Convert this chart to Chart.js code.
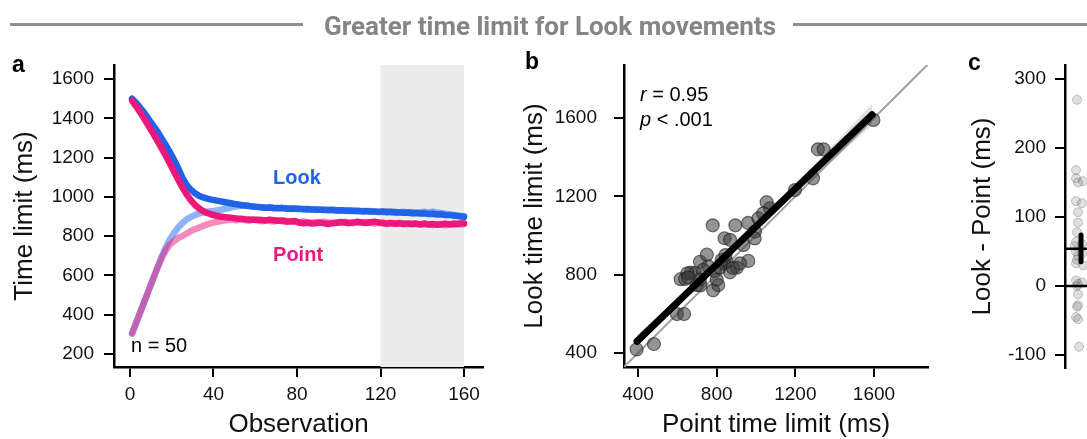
<!DOCTYPE html>
<html>
<head>
<meta charset="utf-8">
<script src="https://cdn.jsdelivr.net/npm/chart.js@4.4.1/dist/chart.umd.min.js"></script>
<style>
  html, body { margin: 0; padding: 0; background: #fff; overflow: hidden; width: 1087px; height: 439px; }
  .panel { position: absolute; }
  .rule { position: absolute; top: 23px; height: 3px; background: #8f8f8f; }
  #title { position: absolute; top: 13px; left: 550px; transform: translateX(-50%); white-space: nowrap;
           font: bold 26px Roboto, sans-serif; line-height: 1; color: #858585; }
  .tag { position: absolute; font: bold 23px "Liberation Sans", Arial, sans-serif; line-height: 1; color: #000; }
</style>
</head>
<body>
<canvas id="chartA" class="panel" style="left:0;top:20px" width="500" height="419"></canvas>
<canvas id="chartB" class="panel" style="left:500px;top:20px" width="440" height="419"></canvas>
<canvas id="chartC" class="panel" style="left:940px;top:20px" width="300" height="419"></canvas>
<div class="rule" style="left:10px;width:293px"></div>
<div id="title">Greater time limit for Look movements</div>
<div class="rule" style="left:793px;width:294px"></div>
<div class="tag" style="left:12px;top:53px">a</div>
<div class="tag" style="left:525px;top:50px">b</div>
<div class="tag" style="left:968px;top:51px">c</div>
<script>
// ---- panel a: time limit per observation (staircases) ----
const observations = [
    1, 3, 5, 7, 9, 11, 13, 15, 17, 19,
    21, 23, 25, 27, 29, 31, 33, 35, 37, 39,
    41, 43, 45, 47, 49, 51, 53, 55, 57, 59,
    61, 63, 65, 67, 69, 71, 73, 75, 77, 79,
    81, 83, 85, 87, 89, 91, 93, 95, 97, 99,
    101, 103, 105, 107, 109, 111, 113, 115, 117, 119,
    121, 123, 125, 127, 129, 131, 133, 135, 137, 139,
    141, 143, 145, 147, 149, 151, 153, 155, 157, 159,
    160];
const lookFromHigh = [
    1500, 1478, 1452, 1425, 1395, 1365, 1335, 1300, 1265, 1230,
    1190, 1148, 1100, 1062, 1038, 1020, 1006, 997, 991, 986,
    982, 978, 974, 970, 966, 962, 959, 956, 953, 951,
    949, 947, 945, 946, 943, 942, 944, 940, 941, 939,
    940, 937, 938, 935, 936, 934, 935, 932, 934, 931,
    932, 929, 931, 928, 929, 926, 928, 925, 926, 923,
    925, 922, 924, 920, 922, 919, 920, 917, 918, 915,
    916, 913, 914, 910, 911, 908, 907, 905, 903, 900,
    898];
const pointFromHigh = [
    1490, 1460, 1428, 1395, 1360, 1325, 1288, 1250, 1212, 1172,
    1130, 1090, 1050, 1015, 985, 960, 942, 928, 918, 910,
    905, 900, 897, 895, 893, 890, 888, 886, 885, 884,
    884, 882, 880, 884, 881, 878, 880, 876, 874, 877,
    869, 866, 868, 864, 866, 869, 865, 862, 866, 868,
    872, 869, 866, 870, 873, 870, 867, 871, 874, 870,
    868, 864, 867, 863, 866, 862, 865, 861, 864, 860,
    863, 859, 862, 858, 861, 863, 860, 864, 862, 866,
    865];
const lookFromLow = [
    305, 360, 415, 470, 525, 580, 635, 690, 740, 782,
    815, 843, 866, 884, 897, 907, 915, 920, 924, 927,
    930, 933, 938, 942, 948, 952, 955, 957, 954, 950,
    948, 946, 944, 947, 942, 944, 940, 943, 938, 941,
    937, 939, 935, 938, 933, 936, 932, 935, 931, 933,
    930, 932, 928, 931, 927, 929, 925, 928, 924, 926,
    923, 927, 922, 925, 921, 924, 920, 923, 919, 922,
    924, 921, 925, 920, 918, 914, 911, 908, 905, 903,
    902];
const pointFromLow = [
    305, 360, 415, 470, 525, 580, 635, 685, 725, 755,
    775, 790, 800, 812, 825, 835, 843, 852, 860, 866,
    872, 876, 879, 882, 884, 880, 886, 882, 878, 884,
    880, 876, 881, 877, 874, 879, 875, 872, 877, 874,
    870, 875, 871, 868, 872, 869, 874, 870, 866, 871,
    868, 873, 869, 866, 870, 867, 872, 868, 864, 869,
    865, 862, 866, 863, 867, 864, 860, 865, 862, 858,
    863, 860, 856, 861, 858, 855, 860, 857, 862, 859,
    861];
const obsTicks = [0, 40, 80, 120, 160];
const limitTicks = [200, 400, 600, 800, 1000, 1200, 1400, 1600];
const testWindow = [120, 160]; // shaded observations

// ---- panel b: per participant limits ----
const pointLimits = [393, 481, 598, 634, 617, 640, 668, 690, 698, 718, 715, 750, 780, 782, 808, 792,
    816, 838, 840, 868, 895, 960, 936, 961, 902, 868, 851, 995, 993, 1012, 1054, 1071,
    1198, 1290, 1315, 1344, 1597, 758, 732, 825, 883, 651, 715, 800, 919, 1037, 655, 845];
const lookLimits = [418, 446, 599, 599, 777, 778, 810, 808, 747, 745, 866, 902, 1052, 720, 747, 818,
    836, 858, 986, 978, 1052, 1064, 951, 870, 836, 812, 866, 1020, 985, 1087, 1170, 1139,
    1232, 1292, 1440, 1440, 1590, 842, 824, 875, 834, 807, 775, 775, 858, 1113, 785, 900];
const fitX = [395, 1590];
const fitY = [460, 1617];
const bandX = [395, 600, 800, 1000, 1200, 1400, 1590];
const bandLow = [428, 640, 842, 1034, 1217, 1395, 1562];
const bandHigh = [492, 676, 862, 1058, 1261, 1471, 1672];
const identity = [330, 1875];
const limitTicksB = [400, 800, 1200, 1600];

// ---- panel c: Look - Point difference ----
const diffs = [270, 168, 156, 152, 150, 123, 120, 107, 92, 78, 64, 61, 58, 50, 47,
    44, 38, 33, 30, 8, 5, 3, 0, -12, -28, -30, -45, -48, -88];
const diffJitter = [0.12, 0.11, 0.11, 0.18, 0.13, 0.11, 0.17, 0.13, 0.13, 0.12, 0.11, 0.17, 0.10, 0.11, 0.17,
    0.13, 0.12, 0.11, 0.18, 0.11, 0.17, 0.13, 0.12, 0.13, 0.13, 0.12, 0.11, 0.13, 0.14];
const diffMean = 54;
const diffCi = [35, 74];
const diffTicks = [-100, 0, 100, 200, 300];

const ink = '#000';
const blue = 'rgb(33, 99, 232)';
const pink = 'rgb(236, 22, 125)';
const fontFamily = '"Liberation Sans", Arial, sans-serif';

function makeAxis(min, max, tickValues, size, horizontal, title, o = {}) {
    return {
        type: 'linear',
        min: min,
        max: max,
        afterBuildTicks: s => { s.ticks = tickValues.map(v => ({value: v})); },
        afterFit: s => { if (horizontal) s.height = size; else s.width = size; },
        grid: {drawOnChartArea: false, drawTicks: true, tickLength: 10, color: ink, lineWidth: 2},
        border: {display: true, color: ink, width: 2.5},
        ticks: {
            color: '#111', autoSkip: false, maxRotation: 0, padding: o.tickPad ?? 8,
            callback: v => String(v),
            font: {family: o.tickFamily || fontFamily, size: 19}
        },
        title: {
            display: true, text: title, color: '#111', padding: o.titlePad,
            font: {family: fontFamily, size: 26, lineHeight: 1}
        }
    };
}

// draws text at data coordinates; parts may be italic
const notesPlugin = {
    id: 'notes',
    afterDatasetsDraw(chart, args, opts) {
        let {ctx, scales} = chart;
        (opts.items || []).forEach(t => {
            let px = scales.x.getPixelForValue(t.x);
            let py = scales.y.getPixelForValue(t.y);
            let parts = t.parts || [{text: t.text}];
            ctx.save();
            ctx.fillStyle = t.color || ink;
            ctx.textBaseline = 'middle';
            let fonts = parts.map(p => `${p.italic ? 'italic ' : ''}${t.weight || 'normal'} ${t.size}px ${fontFamily}`);
            let width = parts.reduce((w, p, i) => { ctx.font = fonts[i]; return w + ctx.measureText(p.text).width; }, 0);
            let x = t.align == 'left' ? px : px - width / 2;
            parts.forEach((p, i) => {
                ctx.font = fonts[i];
                ctx.textAlign = 'left';
                ctx.fillText(p.text, x, py);
                x += ctx.measureText(p.text).width;
            });
            ctx.restore();
        });
    }
};

const shadePlugin = {
    id: 'shade',
    beforeDatasetsDraw(chart, args, opts) {
        if (!opts.range) return;
        let {ctx, chartArea, scales} = chart;
        let x0 = scales.x.getPixelForValue(opts.range[0]);
        let x1 = scales.x.getPixelForValue(opts.range[1]);
        ctx.save();
        ctx.fillStyle = '#ececec';
        ctx.fillRect(x0, chartArea.top, x1 - x0, chartArea.bottom - chartArea.top);
        ctx.restore();
    }
};

function series(xs, ys) {
    return xs.map((x, i) => ({x: x, y: ys[i]}));
}

function trace(data, color, width) {
    return {
        data: data, borderColor: color, borderWidth: width, pointRadius: 0, tension: 0,
        showLine: true, fill: false, borderJoinStyle: 'round', borderCapStyle: 'round'
    };
}

const common = {
    responsive: false,
    animation: false,
    events: [],
    plugins: {legend: {display: false}, tooltip: {enabled: false}}
};

new Chart('chartA', {
    type: 'scatter',
    plugins: [shadePlugin, notesPlugin],
    data: {
        datasets: [
            trace(series(observations, pointFromHigh), pink, 6.5),
            trace(series(observations, lookFromHigh), blue, 6.5),
            trace(series(observations, pointFromLow), 'rgba(236, 22, 125, 0.5)', 6.5),
            trace(series(observations, lookFromLow), 'rgba(33, 99, 232, 0.5)', 6.5)
        ]
    },
    options: Object.assign({}, common, {
        layout: {padding: {left: 0, right: 17, top: 45, bottom: 0}},
        scales: {
            x: makeAxis(-7.66, 169.1, obsTicks, 72, true, 'Observation', {tickPad: 6.5, titlePad: {top: 0, bottom: 1}}),
            y: makeAxis(133.8, 1671.3, limitTicks, 114, false, 'Time limit (ms)', {tickPad: 10, titlePad: {top: 12, bottom: 0}})
        },
        plugins: Object.assign({}, common.plugins, {
            shade: {range: testWindow},
            notes: {items: [
                {text: 'Look', x: 80, y: 1096, size: 20, weight: 'bold', color: blue},
                {text: 'Point', x: 80.5, y: 699, size: 20, weight: 'bold', color: pink},
                {text: 'n = 50', x: 0.5, y: 236, size: 20, align: 'left'}
            ]}
        })
    })
});

new Chart('chartB', {
    type: 'scatter',
    plugins: [notesPlugin],
    data: {
        datasets: [
            trace(series(fitX, fitY), ink, 7),
            {
                data: series(pointLimits, lookLimits), pointRadius: 6.5, pointBorderWidth: 1.2,
                backgroundColor: 'rgba(60, 60, 60, 0.55)', borderColor: 'rgba(30, 30, 30, 0.6)'
            },
            Object.assign(trace(series(bandX, bandHigh), 'rgba(0,0,0,0)', 0), {fill: '+1', backgroundColor: 'rgba(0, 0, 0, 0.12)'}),
            trace(series(bandX, bandLow), 'rgba(0,0,0,0)', 0),
            trace(series(identity, identity), '#a3a3a3', 2)
        ]
    },
    options: Object.assign({}, common, {
        layout: {padding: {left: 0, right: 12, top: 45, bottom: 0}},
        scales: {
            x: makeAxis(328.8, 1874.6, limitTicksB, 72, true, 'Point time limit (ms)', {tickPad: 6.5, titlePad: {top: 0, bottom: 1}}),
            y: makeAxis(328.5, 1870.6, limitTicksB, 124, false, 'Look time limit (ms)',
                {tickPad: 17, tickFamily: '"Liberation Sans Narrow", "Liberation Sans", sans-serif', titlePad: {top: 22, bottom: 0}})
        },
        plugins: Object.assign({}, common.plugins, {
            notes: {items: [
                {parts: [{text: 'r', italic: true}, {text: ' = 0.95'}], x: 410, y: 1715, size: 20, align: 'left'},
                {parts: [{text: 'p', italic: true}, {text: ' < .001'}], x: 410, y: 1585, size: 20, align: 'left'}
            ]}
        })
    })
});

new Chart('chartC', {
    type: 'scatter',
    data: {
        datasets: [
            trace([{x: 0.16, y: diffCi[0]}, {x: 0.16, y: diffCi[1]}], ink, 5),
            trace([{x: 0, y: diffMean}, {x: 1, y: diffMean}], ink, 2.5),
            trace([{x: 0, y: 0}, {x: 1, y: 0}], ink, 2.5),
            {
                data: series(diffJitter, diffs), pointRadius: 4.5, pointBorderWidth: 1,
                backgroundColor: 'rgba(110, 110, 110, 0.22)', borderColor: 'rgba(80, 80, 80, 0.3)'
            }
        ]
    },
    options: Object.assign({}, common, {
        layout: {padding: {left: 0, right: 75, top: 45, bottom: 71}},
        scales: {
            x: {type: 'linear', display: false, min: 0, max: 1},
            y: makeAxis(-118.8, 320.3, diffTicks, 125, false, 'Look - Point (ms)', {tickPad: 9, titlePad: {top: 29.5, bottom: 0}})
        }
    })
});
</script>
</body>
</html>
